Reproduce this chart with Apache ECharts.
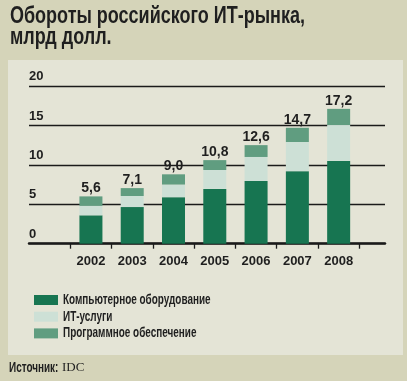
<!DOCTYPE html>
<html><head><meta charset="utf-8">
<script src="https://cdn.jsdelivr.net/npm/echarts@6/dist/echarts.min.js"></script>
<style>html,body{margin:0;padding:0;background:#d5d4b9;}#c{width:407px;height:381px;}</style>
</head><body><div id="c"></div>
<script>
const years = ['2002', '2003', '2004', '2005', '2006', '2007', '2008'];
const hardware = [3.6, 4.65, 5.9, 6.95, 7.95, 9.2, 10.5];
const services = [1.2, 1.4, 1.6, 2.4, 3.05, 3.7, 4.55];
const software = [1.2, 1.0, 1.3, 1.25, 1.5, 1.8, 2.05];
const totals = ['5,6', '7,1', '9,0', '10,8', '12,6', '14,7', '17,2'];
const yTicks = [0, 5, 10, 15, 20];
const seriesNames = ['Компьютерное оборудование', 'ИТ-услуги', 'Программное обеспечение'];
const titleText = 'Обороты российского ИТ-рынка,\nмлрд долл.';
const sourceLabel = 'Источник:';
const sourceName = 'IDC';

const FONT = '"Liberation Sans Narrow", "Liberation Sans", sans-serif';
const INK = '#1f1f1f';
const colors = ['#177551', '#cde0d6', '#609d80'];

// leading empty slot on the category axis (as in the original layout)
const cats = [''].concat(years);
const pad = arr => [null].concat(arr);
// slot boundaries (in slot units) where the tick marks sit
const slotTicks = years.map((_, i) => i + 1).concat([years.length + 1]);

const chart = echarts.init(document.getElementById('c'));

const legendGraphics = [];
seriesNames.forEach((n, i) => {
  const cy = 300 + i * 16.7;
  legendGraphics.push({ type: 'rect', shape: { x: 34, y: cy - 5, width: 24, height: 10 }, style: { fill: colors[i] } });
  legendGraphics.push({ type: 'text', x: 63, y: cy, scaleX: 0.71,
    style: { text: n, font: 'bold 14px ' + FONT, fill: INK, textVerticalAlign: 'middle' } });
});

chart.setOption({
  backgroundColor: '#d5d4b9',
  animation: false,
  graphic: [
    { type: 'rect', shape: { x: 8, y: 60, width: 395, height: 295 }, style: { fill: '#e4e4d6' }, z: -10 },
    { type: 'text', x: 10, y: 6, scaleX: 0.75,
      style: { text: titleText, font: 'bold 24px ' + FONT, lineHeight: 21, fill: INK, textVerticalAlign: 'top' } },
    { type: 'text', x: 9, y: 368, scaleX: 0.71,
      style: { text: sourceLabel, font: 'bold 14px ' + FONT, fill: INK, textVerticalAlign: 'middle' } },
    { type: 'text', x: 62, y: 368,
      style: { text: sourceName, font: '13px "Liberation Serif", serif', fill: INK, textVerticalAlign: 'middle' } }
  ].concat(legendGraphics),
  grid: [
    { left: 29, right: 22, top: 86, bottom: 137.3, containLabel: false },
    { left: 29, right: 47.7, top: 86, bottom: 137.3, containLabel: false }
  ],
  xAxis: [
    { gridIndex: 0, type: 'value', min: 0, max: 8.622, splitLine: { show: false },
      axisLine: { show: true, lineStyle: { color: '#1a1a1a', width: 2.5 } },
      axisTick: { show: true, customValues: slotTicks, length: 5, lineStyle: { color: '#1a1a1a', width: 1.3 } },
      axisLabel: { show: false } },
    { gridIndex: 1, type: 'category', data: cats,
      axisLine: { show: false },
      axisTick: { show: false },
      axisLabel: { margin: 11, fontFamily: FONT, fontSize: 13, fontWeight: 'bold', color: INK } }
  ],
  yAxis: [
    { gridIndex: 0, type: 'value', min: 0, max: 20, interval: 5,
      axisLine: { show: false }, axisTick: { show: false },
      splitLine: { show: true, lineStyle: { color: '#1a1a1a', width: 1.3 } },
      axisLabel: { inside: true, margin: 0, align: 'left', verticalAlign: 'bottom', padding: [0, 0, 3, 0],
        fontFamily: FONT, fontSize: 13, fontWeight: 'bold', color: INK,
        formatter: v => yTicks.includes(v) ? String(v) : '' } },
    { gridIndex: 1, type: 'value', min: 0, max: 20, interval: 5, show: false, splitLine: { show: false } }
  ],
  series: [
    { name: seriesNames[0], type: 'bar', stack: 't', xAxisIndex: 1, yAxisIndex: 1, barWidth: 23, data: pad(hardware), itemStyle: { color: colors[0] } },
    { name: seriesNames[1], type: 'bar', stack: 't', xAxisIndex: 1, yAxisIndex: 1, barWidth: 23, data: pad(services), itemStyle: { color: colors[1] } },
    { name: seriesNames[2], type: 'bar', stack: 't', xAxisIndex: 1, yAxisIndex: 1, barWidth: 23, data: pad(software), itemStyle: { color: colors[2] },
      label: { show: true, position: 'top', distance: 1, fontFamily: FONT, fontSize: 14, fontWeight: 'bold', color: INK,
        formatter: p => totals[p.dataIndex - 1] } }
  ]
});
</script></body></html>
